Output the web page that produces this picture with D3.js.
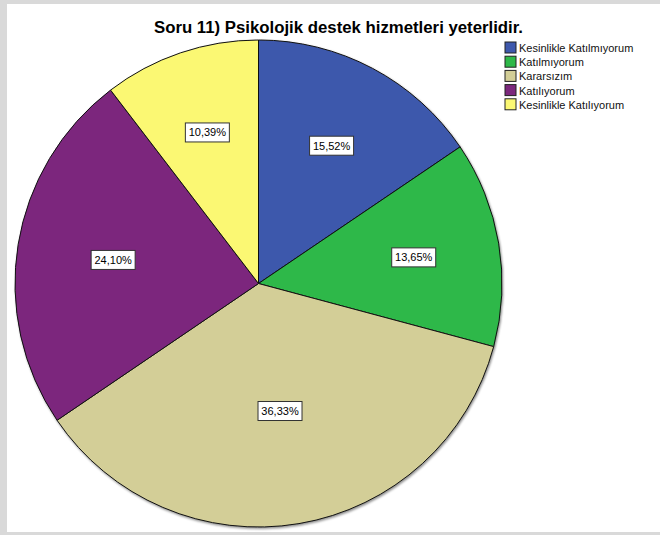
<!DOCTYPE html>
<html>
<head>
<meta charset="utf-8">
<script src="https://cdn.jsdelivr.net/npm/d3@7"></script>
<style>
  html, body { margin: 0; padding: 0; background: #d9d9d9; }
  svg { display: block; }
</style>
</head>
<body>
<svg id="chart" width="660" height="535"></svg>
<script>
const title = "Soru 11) Psikolojik destek hizmetleri yeterlidir.";
const categories = ["Kesinlikle Katılmıyorum", "Katılmıyorum", "Kararsızım", "Katılıyorum", "Kesinlikle Katılıyorum"];
const percents = [15.52, 13.65, 36.33, 24.10, 10.39];
const colors = ["#3e58ac", "#2eb848", "#d3ce97", "#7c287d", "#fbf873"];

const svg = d3.select("#chart");
const W = 660, H = 535;

// white plot area inside the grey frame
svg.append("rect")
    .attr("x", 7).attr("y", 4)
    .attr("width", W - 7).attr("height", 528)
    .attr("fill", "#fff");

svg.append("text")
    .attr("x", 338.5).attr("y", 33)
    .attr("text-anchor", "middle")
    .attr("font-family", "Liberation Sans, Arial, sans-serif")
    .attr("font-weight", "bold")
    .attr("font-size", 16)
    .attr("textLength", 369)
    .attr("lengthAdjust", "spacingAndGlyphs")
    .text(title);

const cx = 258.5, cy = 283.5, r = 243.5;

const defs = svg.append("defs");
defs.append("filter").attr("id", "shadow")
    .attr("x", "-5%").attr("y", "-5%").attr("width", "110%").attr("height", "110%")
    .append("feDropShadow")
    .attr("dx", 1).attr("dy", 1.5).attr("stdDeviation", 1)
    .attr("flood-color", "#000").attr("flood-opacity", 0.45);

const pie = d3.pie().sort(null).value(d => d);
const arcs = pie(percents);
const arc = d3.arc().innerRadius(0).outerRadius(r);

const g = svg.append("g").attr("transform", `translate(${cx},${cy})`);

g.append("g").attr("filter", "url(#shadow)")
  .selectAll("path")
  .data(arcs)
  .join("path")
    .attr("d", arc)
    .attr("fill", (d, i) => colors[i])
    .attr("stroke", "#111")
    .attr("stroke-width", 1)
    .attr("stroke-linejoin", "round");

// labels at the area centroid of each sector
const labels = g.selectAll("g.lab")
  .data(arcs)
  .join("g")
    .attr("class", "lab")
    .attr("transform", d => {
        const a = (d.endAngle - d.startAngle) / 2;
        const m = (d.startAngle + d.endAngle) / 2;
        const dist = 2 * r * Math.sin(a) / (3 * a);
        return `translate(${dist * Math.sin(m)},${-dist * Math.cos(m)})`;
    });

labels.append("rect")
    .attr("x", -22).attr("y", -9.5)
    .attr("width", 44).attr("height", 19)
    .attr("fill", "#fff")
    .attr("stroke", "#333")
    .attr("stroke-width", 1);

labels.append("text")
    .attr("text-anchor", "middle")
    .attr("dy", 4)
    .attr("font-family", "Liberation Sans, Arial, sans-serif")
    .attr("font-size", 11)
    .text(d => d.value.toFixed(2).replace(".", ",") + "%");

// legend
const leg = svg.append("g").attr("transform", "translate(505,42)");
const rows = leg.selectAll("g")
  .data(categories)
  .join("g")
    .attr("transform", (d, i) => `translate(0,${i * 14.2})`);

rows.append("rect")
    .attr("width", 11).attr("height", 11)
    .attr("fill", (d, i) => colors[i])
    .attr("stroke", "#222")
    .attr("stroke-width", 1);

rows.append("text")
    .attr("x", 14).attr("y", 10)
    .attr("font-family", "Liberation Sans, Arial, sans-serif")
    .attr("font-size", 11)
    .attr("fill", "#111")
    .text(d => d);
</script>
</body>
</html>
